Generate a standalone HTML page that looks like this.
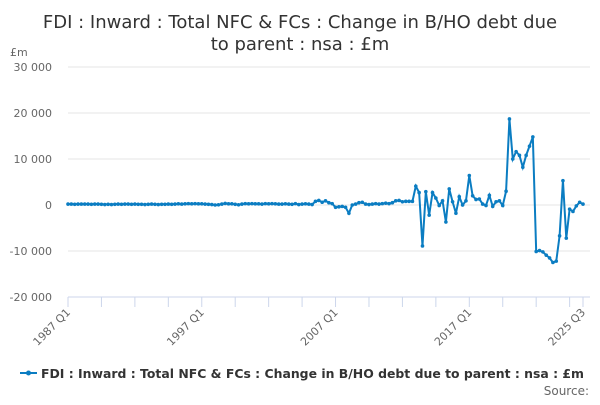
<!DOCTYPE html>
<html><head><meta charset="utf-8"><style>
body{margin:0;background:#fff;font-family:"Liberation Sans","DejaVu Sans",sans-serif}
svg text{font-family:"DejaVu Sans","Liberation Sans",sans-serif}
</style></head><body>
<svg id="chart" width="600" height="400" viewBox="0 0 600 400">
<text x="300" y="28" text-anchor="middle" font-size="18" fill="#333">FDI : Inward : Total NFC &amp; FCs : Change in B/HO debt due</text>
<text x="300" y="50" text-anchor="middle" font-size="18" fill="#333">to parent : nsa : £m</text>
<text x="10" y="56" font-size="11" fill="#666">£m</text>
<g id="grid"></g><g id="xaxis"></g><g id="series"></g>
<g>
<line x1="20" x2="37" y1="373" y2="373" stroke="#0b7dc2" stroke-width="2"/>
<circle cx="28.5" cy="373" r="2.5" fill="#0b7dc2"/>
<text x="41" y="378" font-size="12.5" font-weight="bold" fill="#333" textLength="543" lengthAdjust="spacingAndGlyphs">FDI : Inward : Total NFC &amp; FCs : Change in B/HO debt due to parent : nsa : £m</text>
</g>
<text x="589" y="395" text-anchor="end" font-size="12" fill="#666">Source:</text>
</svg>
<script>
const yTicks=[30000,20000,10000,0,-10000,-20000];
const yTickLabels=["30 000","20 000","10 000","0","-10 000","-20 000"];
const xLabels=["1987 Q1","1997 Q1","2007 Q1","2017 Q1","2025 Q3"];
const xLabelIdx=[0,40,80,120,154];
const values=[200,200,150,200,200,200,200,150,200,200,150,100,150,100,150,200,150,200,200,150,200,150,150,100,150,200,150,100,150,150,200,150,200,250,200,250,300,250,300,250,
250,200,150,100,0,50,200,350,250,250,150,50,200,300,250,300,250,250,200,300,
250,300,250,200,200,250,200,150,300,100,200,250,200,100,800,1000,600,900,500,300,
-500,-400,-300,-500,-1800,0,200,500,600,200,100,200,300,200,300,400,300,500,900,1000,
700,800,800,800,4100,2700,-8900,2900,-2200,2700,1500,-100,900,-3700,3500,700,-1800,1800,0,900,6400,2000,1200,1300,200,-100,2100,-300,700,900,-100,3000,18700,10000,11600,10800,8200,10800,12800,14800,-10100,-9900,-10200,-10900,-11500,-12500,-12200,-6700,5300,-7200,-900,-1400,-200,600,200];
const NS="http://www.w3.org/2000/svg";
const x0=68,x1=583,y0=297,y1=67,vmin=-20000,vmax=30000;
const n=values.length;
const xs=i=>x0+(x1-x0)*i/(n-1);
const ys=v=>y0-(v-vmin)/(vmax-vmin)*(y0-y1);
function mk(t,a,p){const e=document.createElementNS(NS,t);for(const k in a)e.setAttribute(k,a[k]);p.appendChild(e);return e;}
const grid=document.getElementById('grid');
yTicks.forEach((v,k)=>{
 const l=mk('line',{x1:x0,x2:590,y1:ys(v),y2:ys(v),stroke:v===vmin?'#ccd6eb':'#e6e6e6','stroke-width':1},grid);
 
 
 const t=mk('text',{x:52,y:ys(v)+4,'text-anchor':'end','font-size':11,fill:'#666'},grid);
 t.textContent=yTickLabels[k];
 
 
});
const xa=document.getElementById('xaxis');
for(let i=0;i<n;i+=10){
 const l=mk('line',{x1:xs(i),x2:xs(i),y1:y0,y2:y0+10,stroke:'#ccd6eb'},xa);
 
 
}
const lt=mk('line',{x1:xs(n-1),x2:xs(n-1),y1:y0,y2:y0+10,stroke:'#ccd6eb'},xa);


xLabels.forEach((s,k)=>{
 const x=xs(xLabelIdx[k]),y=y0+16;
 const t=mk('text',{x:x+3,y:y,'text-anchor':'end','font-size':11,fill:'#666',transform:`rotate(-45 ${x+3} ${y})`},xa);
 t.textContent=s;
 
 
});
const se=document.getElementById('series');
const p=mk('path',{d:values.map((v,i)=>(i?'L':'M')+xs(i).toFixed(2)+' '+ys(v).toFixed(2)).join(''),fill:'none',stroke:'#0b7dc2','stroke-width':2},se);


values.forEach((v,i)=>{
 const c=mk('circle',{cx:xs(i),cy:ys(v),r:1.8,fill:'#0b7dc2'},se);
 
 
});
</script>
</body></html>
